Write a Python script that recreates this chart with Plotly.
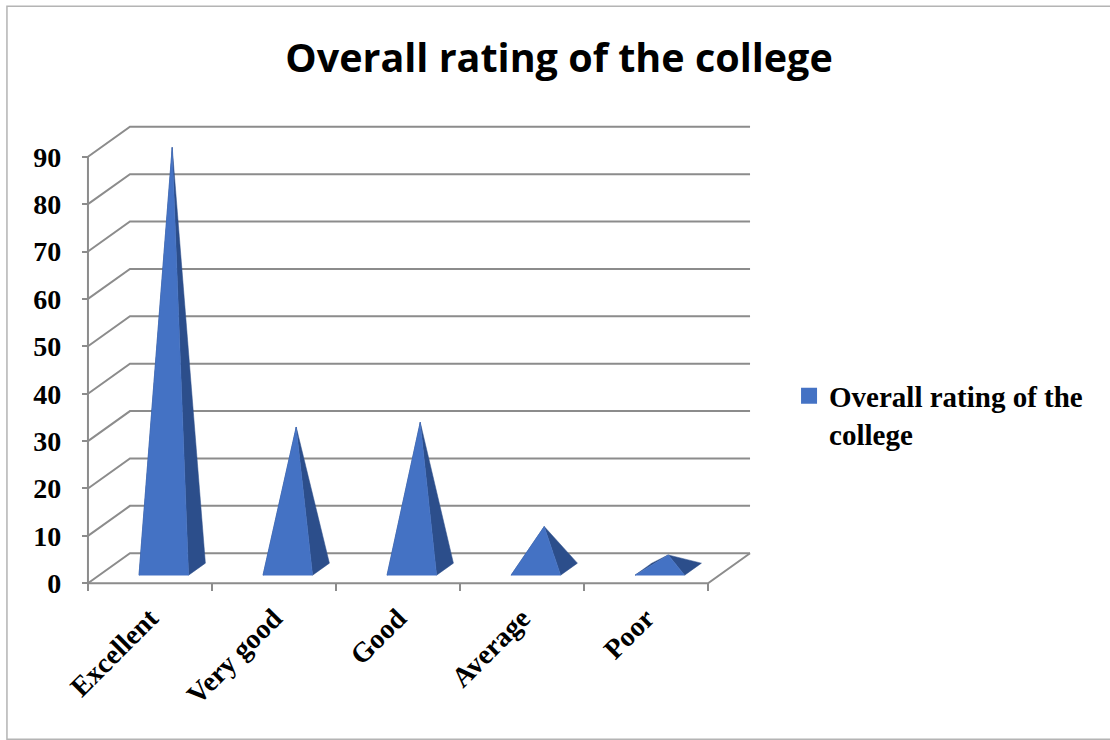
import plotly.graph_objects as go

# ---------------- data ----------------
categories = ["Excellent", "Very good", "Good", "Average", "Poor"]
values = [89, 30, 31, 9, 3]
y_tick_values = [0, 10, 20, 30, 40, 50, 60, 70, 80, 90]
series_name = "Overall rating of the college"
chart_title = "Overall rating of the college"

# ---------------- layout geometry (pixels) ----------------
W, H = 1110, 740
X0_PX = 88          # front-left edge of floor
CAT_PX = 124        # width of one category
Y0_PX = 583         # value 0 on the front plane
UNIT_PX = 4.74      # pixels per value unit
DEPTH_X_PX, DEPTH_Y_PX = 42, 30   # oblique depth offset

DX = DEPTH_X_PX / CAT_PX      # depth offset in category units
DY = DEPTH_Y_PX / UNIT_PX     # depth offset in value units
n = len(categories)
ymax = max(y_tick_values)

PADX, PADY = 0.04, 1.0
x_lo, x_hi = -0.5 - PADX, n - 0.5 + DX + PADX
y_lo, y_hi = -PADY, ymax + DY + PADY

m_l = X0_PX - PADX * CAT_PX
m_r = W - (X0_PX + (x_hi + 0.5) * CAT_PX)
m_b = H - (Y0_PX + PADY * UNIT_PX)
m_t = Y0_PX - y_hi * UNIT_PX
plot_w = W - m_l - m_r
plot_h = H - m_t - m_b

GRID = "#8c8c8c"
FRONT = "#4472C4"
SIDE = "#2C4E8B"
LEFT = "#27467E"


def proj(x, v, d):
    """oblique projection: depth d in [0,1]"""
    return x + d * DX, v + d * DY


fig = go.Figure()


def add_line(pts, color=GRID, width=2):
    fig.add_trace(go.Scatter(x=[p[0] for p in pts], y=[p[1] for p in pts], mode="lines",
                             line=dict(color=color, width=width), hoverinfo="skip",
                             showlegend=False))


# back wall + left wall gridlines
for v in y_tick_values:
    a = proj(-0.5, v, 0)
    b = proj(-0.5, v, 1)
    c = proj(n - 0.5, v, 1)
    add_line([a, b, c])
# floor front edge and right edge
add_line([proj(-0.5, 0, 0), proj(n - 0.5, 0, 0), proj(n - 0.5, 0, 1)])
# front vertical axis line
add_line([proj(-0.5, 0, 0), proj(-0.5, ymax, 0)])

# pyramids
HALF = 0.2
SHIFT = 0.02
D0, D1 = 0.27, 0.67
DC = (D0 + D1) / 2


def add_poly(pts, color):
    xs = [p[0] for p in pts] + [pts[0][0]]
    ys = [p[1] for p in pts] + [pts[0][1]]
    fig.add_trace(go.Scatter(x=xs, y=ys, mode="lines", fill="toself", fillcolor=color,
                             line=dict(color=color, width=0.5), hoverinfo="skip",
                             showlegend=False))


for i, (cat, v) in enumerate(zip(categories, values)):
    xl, xr = i - HALF + SHIFT, i + HALF + SHIFT
    FL = proj(xl, 0, D0)
    FR = proj(xr, 0, D0)
    BL = proj(xl, 0, D1)
    BR = proj(xr, 0, D1)
    A = proj(i + SHIFT, v, DC)
    add_poly([FL, BL, A], LEFT)
    add_poly([FR, BR, A], SIDE)
    add_poly([FL, FR, A], FRONT)

# legend entry
fig.add_trace(go.Scatter(x=[None], y=[None], mode="markers",
                         marker=dict(symbol="square", size=16, color=FRONT),
                         name="Overall rating of the<br>college", showlegend=True))
# dummy trace on xaxis2 for the tick marks
fig.add_trace(go.Scatter(x=[None], y=[None], xaxis="x2", showlegend=False, hoverinfo="skip"))

axis_pos_y = (PADY * UNIT_PX) / plot_h
axis_pos_x = (PADX * CAT_PX) / plot_w

LEG_X_PX, LEG_Y_PX = 789, 370

fig.update_layout(
    width=W, height=H,
    margin=dict(l=m_l, r=m_r, t=m_t, b=m_b, pad=0),
    paper_bgcolor="white", plot_bgcolor="white",
    title=dict(text=chart_title, x=559 / W, xanchor="center", y=1 - 58 / H, yanchor="middle",
               font=dict(family="Open Sans", size=39.5, color="black", weight="bold")),
    xaxis=dict(range=[x_lo, x_hi], tickvals=list(range(n)), ticktext=categories,
               tickangle=-45, ticks="", showgrid=False, zeroline=False, showline=False,
               anchor="free", position=axis_pos_y, ticklabelstandoff=12,
               tickfont=dict(family="Liberation Serif", size=28, color="black", weight="bold")),
    xaxis2=dict(range=[x_lo, x_hi], overlaying="x", tickvals=[k - 0.5 for k in range(n + 1)],
                ticks="outside", ticklen=7, tickwidth=2, tickcolor=GRID, showticklabels=False,
                showgrid=False, zeroline=False, showline=False, anchor="free", position=axis_pos_y),
    yaxis=dict(range=[y_lo, y_hi], tickvals=y_tick_values, ticks="outside", ticklen=6,
               tickwidth=2, tickcolor=GRID, showgrid=False, zeroline=False, showline=False,
               anchor="free", position=axis_pos_x, ticklabelstandoff=15,
               tickfont=dict(family="Liberation Serif", size=28, color="black", weight="bold")),
    legend=dict(x=(LEG_X_PX - m_l) / plot_w, xanchor="left", y=1 - (LEG_Y_PX - m_t) / plot_h,
                yanchor="top", valign="top", bgcolor="rgba(0,0,0,0)",
                font=dict(family="Liberation Serif", size=29, color="black", weight="bold"),
                itemwidth=30, tracegroupgap=0),
    shapes=[dict(type="rect", xref="paper", yref="paper",
                 x0=(7 - m_l) / plot_w, x1=(1112 - m_l) / plot_w,
                 y0=(H - m_b - 739) / plot_h, y1=(H - m_b - 6) / plot_h,
                 line=dict(color="#b4b4b4", width=1.5), layer="below")],
)

fig.write_html("out.html", config={"displayModeBar": False},
               post_script="document.body.style.margin='0';")
